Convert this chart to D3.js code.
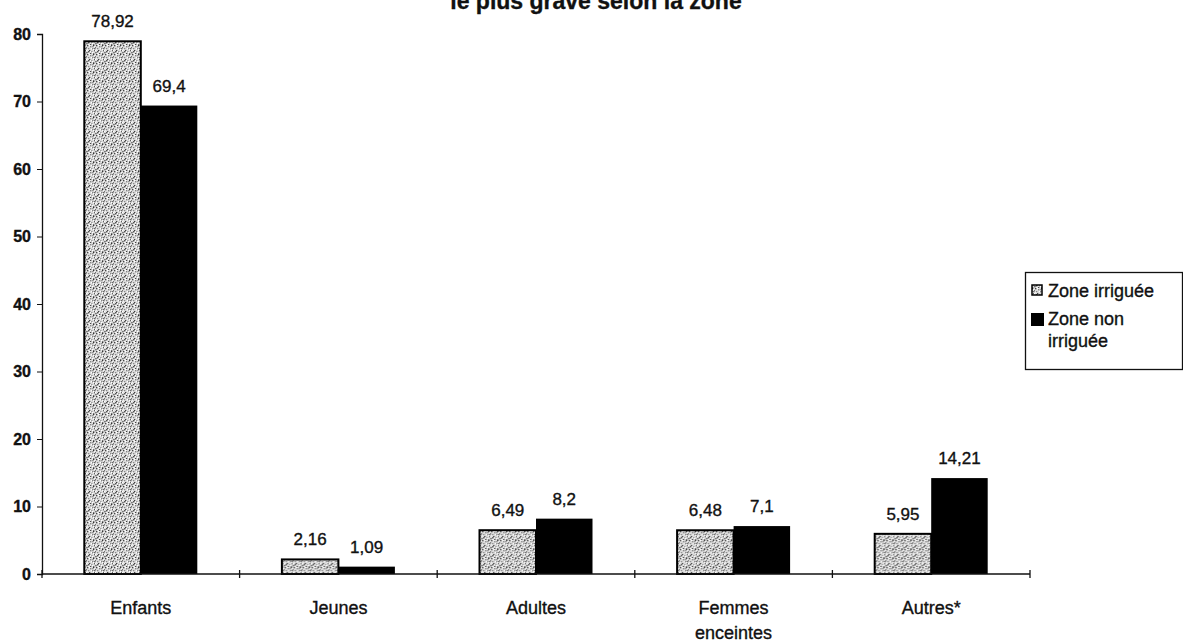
<!DOCTYPE html>
<html>
<head>
<meta charset="utf-8">
<script src="https://cdn.jsdelivr.net/npm/d3@7"></script>
<style>
  html, body { margin: 0; padding: 0; background: #fff; }
  svg { display: block; font-family: Arial, "Liberation Sans", sans-serif; }
  svg text { stroke: #111; stroke-width: 0.35px; }
</style>
</head>
<body>
<svg id="chart" width="1183" height="644"></svg>
<script>
// ---- data ----
const categories = ["Enfants", "Jeunes", "Adultes", "Femmes enceintes", "Autres*"];
const seriesNames = ["Zone irriguée", "Zone non irriguée"];
const irrigueeValues = [78.92, 2.16, 6.49, 6.48, 5.95];
const nonIrrigueeValues = [69.4, 1.09, 8.2, 7.1, 14.21];
const irrigueeLabels = ["78,92", "2,16", "6,49", "6,48", "5,95"];
const nonIrrigueeLabels = ["69,4", "1,09", "8,2", "7,1", "14,21"];
const yTicks = [0, 10, 20, 30, 40, 50, 60, 70, 80];
const titleText = "le plus grave selon la zone";

// ---- layout ----
const svg = d3.select("#chart");
const plotLeft = 42, plotRight = 1030, plotTop = 34, plotBottom = 574;
const barW = 56.5;

const x = d3.scaleBand().domain(categories).range([plotLeft, plotRight]).padding(0);
const xs = d3.scaleBand().domain(seriesNames)
  .range([x.bandwidth() / 2 - barW, x.bandwidth() / 2 + barW]).padding(0);
const y = d3.scaleLinear().domain([0, 80]).range([plotBottom, plotTop]);

// stipple pattern
const defs = svg.append("defs");
const pat = defs.append("pattern").attr("id", "stip")
  .attr("patternUnits", "userSpaceOnUse").attr("width", 9).attr("height", 9);
pat.append("rect").attr("width", 9).attr("height", 9).attr("fill", "#dcdcdc");
const dots = [[0,0],[3,1],[6,0],[1,3],[5,3],[8,2],[2,5],[4,6],[7,5],[0,7],[6,8],[3,8],[8,7],[5,1],[1,6],
              [2,0],[7,1],[4,3],[0,4],[6,4],[3,6],[8,5],[1,8],[5,7],[7,3]];
const shades = ["#444","#777","#333","#888","#555","#666","#404040","#7a7a7a","#505050","#888","#606060","#444","#777","#999","#555",
                "#fff","#f4f4f4","#fff","#f0f0f0","#fff","#fafafa","#fff","#f6f6f6","#fff","#6a6a6a"];
dots.forEach((d, i) => pat.append("rect").attr("x", d[0]).attr("y", d[1])
  .attr("width", 1.3).attr("height", 1.3).attr("fill", shades[i]));

// title (second line; the first line is cut off the top of the page)
svg.append("text").attr("x", 596).attr("y", 8.5).attr("text-anchor", "middle")
  .attr("font-size", 23).attr("font-weight", "bold").attr("fill", "#111").text(titleText);

// y axis
const yAxis = d3.axisLeft(y).tickValues(yTicks).tickSize(5).tickPadding(6).tickFormat(d3.format("d"));
const ga = svg.append("g").attr("transform", `translate(${plotLeft},0)`).call(yAxis);
ga.select(".domain").attr("stroke", "#111").attr("stroke-width", 1.3);
ga.selectAll(".tick line").attr("stroke", "#111");
ga.selectAll(".tick text").attr("font-size", 16).attr("font-weight", "bold").attr("fill", "#111")
  .attr("font-family", "Arial, 'Liberation Sans', sans-serif");

// bars
const rows = categories.map((c, i) => ({ cat: c, vals: [irrigueeValues[i], nonIrrigueeValues[i]], labs: [irrigueeLabels[i], nonIrrigueeLabels[i]] }));
const groups = svg.append("g").selectAll("g").data(rows).join("g")
  .attr("transform", d => `translate(${x(d.cat)},0)`);

groups.selectAll("rect").data(d => d.vals.map((v, j) => ({ s: seriesNames[j], v }))).join("rect")
  .attr("x", d => xs(d.s)).attr("width", xs.bandwidth())
  .attr("y", d => y(d.v)).attr("height", d => y(0) - y(d.v))
  .attr("fill", d => d.s === seriesNames[0] ? "url(#stip)" : "#000")
  .attr("stroke", "#000").attr("stroke-width", d => d.s === seriesNames[0] ? 2 : 0);

groups.selectAll("text.val").data(d => d.vals.map((v, j) => ({ s: seriesNames[j], v, l: d.labs[j] }))).join("text")
  .attr("class", "val")
  .attr("x", d => xs(d.s) + xs.bandwidth() / 2)
  .attr("y", d => y(d.v) - 14)
  .attr("text-anchor", "middle").attr("font-size", 17).attr("fill", "#111")
  .text(d => d.l);

// x axis
const gx = svg.append("g");
gx.append("line").attr("x1", plotLeft).attr("x2", plotRight).attr("y1", y(0)).attr("y2", y(0))
  .attr("stroke", "#111").attr("stroke-width", 1.3);
const bounds = categories.map(c => x(c)).concat([plotRight]);
gx.selectAll("line.tk").data(bounds).join("line").attr("class", "tk")
  .attr("x1", d => d).attr("x2", d => d).attr("y1", y(0) - 4).attr("y2", y(0) + 4)
  .attr("stroke", "#111").attr("stroke-width", 1.3);
gx.selectAll("text.cat").data(categories).join("text").attr("class", "cat")
  .attr("x", d => x(d) + x.bandwidth() / 2)
  .attr("y", y(0) + 40)
  .attr("text-anchor", "middle").attr("font-size", 18).attr("fill", "#111")
  .each(function (d) {
    const words = d === "Femmes enceintes" ? ["Femmes", "enceintes"] : [d];
    const t = d3.select(this);
    words.forEach((w, k) => t.append("tspan").attr("x", x(d) + x.bandwidth() / 2)
      .attr("dy", k === 0 ? 0 : 25).text(w));
  });

// legend
const lg = svg.append("g");
lg.append("rect").attr("x", 1025.5).attr("y", 272.5).attr("width", 157).attr("height", 97)
  .attr("fill", "#fff").attr("stroke", "#111").attr("stroke-width", 1.3);
lg.append("rect").attr("x", 1032).attr("y", 285).attr("width", 10).attr("height", 10)
  .attr("fill", "url(#stip)").attr("stroke", "#000").attr("stroke-width", 1.5);
lg.append("rect").attr("x", 1031).attr("y", 313).attr("width", 13).attr("height", 13).attr("fill", "#000");
lg.append("text").attr("x", 1048).attr("y", 297).attr("font-size", 18).attr("fill", "#111").text(seriesNames[0]);
const t2 = lg.append("text").attr("x", 1048).attr("y", 325).attr("font-size", 18).attr("fill", "#111");
t2.append("tspan").attr("x", 1048).text("Zone non");
t2.append("tspan").attr("x", 1048).attr("dy", 22).text("irriguée");
</script>
</body>
</html>
